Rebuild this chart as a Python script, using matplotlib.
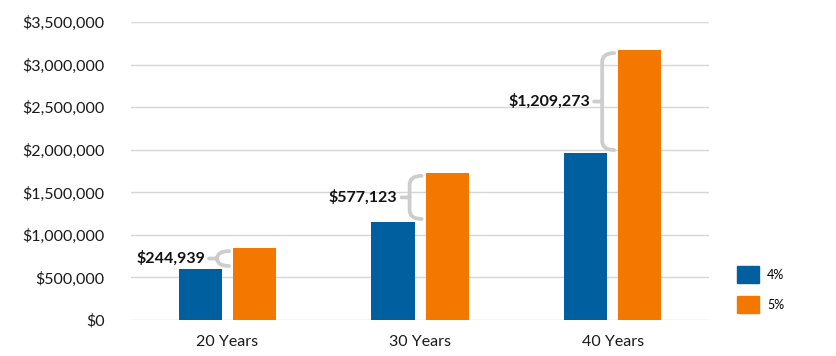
import matplotlib.pyplot as plt
from matplotlib.patches import Patch, PathPatch
from matplotlib.path import Path
from matplotlib.transforms import IdentityTransform
import numpy as np

plt.rcParams['font.family'] = ['Lato', 'DejaVu Sans']

categories = ['20 Years', '30 Years', '40 Years']
series_names = ['4%', '5%']
values_4 = [600000, 1152000, 1962000]
gaps = [244939, 577123, 1209273]
values_5 = [v + g for v, g in zip(values_4, gaps)]
gap_labels = ['$244,939', '$577,123', '$1,209,273']
yticks = [0, 500000, 1000000, 1500000, 2000000, 2500000, 3000000, 3500000]

blue = '#005F9E'
orange = '#F47800'
brace_col = '#CDCDCD'

fig = plt.figure(figsize=(8.36, 3.56), dpi=100)
ax = fig.add_axes([0.157, 0.101, 0.691, 0.837])

x = np.arange(len(categories))
w = 0.224
off = 0.1406
ax.bar(x - off, values_4, w, color=blue, zorder=3)
ax.bar(x + off, values_5, w, color=orange, zorder=3)

ax.set_xlim(-0.5, 2.5)
ax.set_ylim(0, 3500000)
ax.set_yticks(yticks)
ax.set_yticklabels(['$0'] + ['${:,}'.format(t) for t in yticks[1:]])
ax.set_xticks(x)
ax.set_xticklabels(categories)
ax.tick_params(axis='both', length=0, labelsize=11.5, colors='#1a1a1a')
ax.tick_params(axis='y', pad=19)
ax.tick_params(axis='x', pad=11)
ax.grid(axis='y', color='#D6D6D6', linewidth=1, zorder=0)
for s in ax.spines.values():
    s.set_visible(False)

# braces between the bars, drawn in pixel space
fig.canvas.draw()
for i in range(len(categories)):
    xo, ytop = ax.transData.transform((x[i] + off - w / 2, values_5[i]))
    _, ybot = ax.transData.transform((x[i], values_4[i]))
    xr = xo - 4
    xv = xr - 12
    ytop -= 3
    ybot += 3
    ymid = (ytop + ybot) / 2
    r = min(9, (ytop - ybot) / 2)
    verts = [(xr, ytop), (xv, ytop), (xv, ytop - r),
             (xv, ybot + r), (xv, ybot), (xr, ybot),
             (xv - 8, ymid), (xv, ymid)]
    codes = [Path.MOVETO, Path.CURVE3, Path.CURVE3,
             Path.LINETO, Path.CURVE3, Path.CURVE3,
             Path.MOVETO, Path.LINETO]
    fig.add_artist(PathPatch(Path(verts, codes), transform=IdentityTransform(),
                             fill=False, edgecolor=brace_col, linewidth=2.7,
                             capstyle='round', zorder=4))
    fig.text((xv - 12) / 836, ymid / 356, gap_labels[i], ha='right', va='center',
             fontsize=11.5, fontweight='bold', color='#111111')

handles = [Patch(color=blue), Patch(color=orange)]
fig.legend(handles, series_names, loc='upper left', bbox_to_anchor=(0.8816, 0.2528),
           frameon=False, fontsize=9, handlelength=1.76, handleheight=1.76,
           handletextpad=0.64, labelspacing=1.0, borderpad=0, borderaxespad=0)

fig.savefig('out.png', dpi=100)
